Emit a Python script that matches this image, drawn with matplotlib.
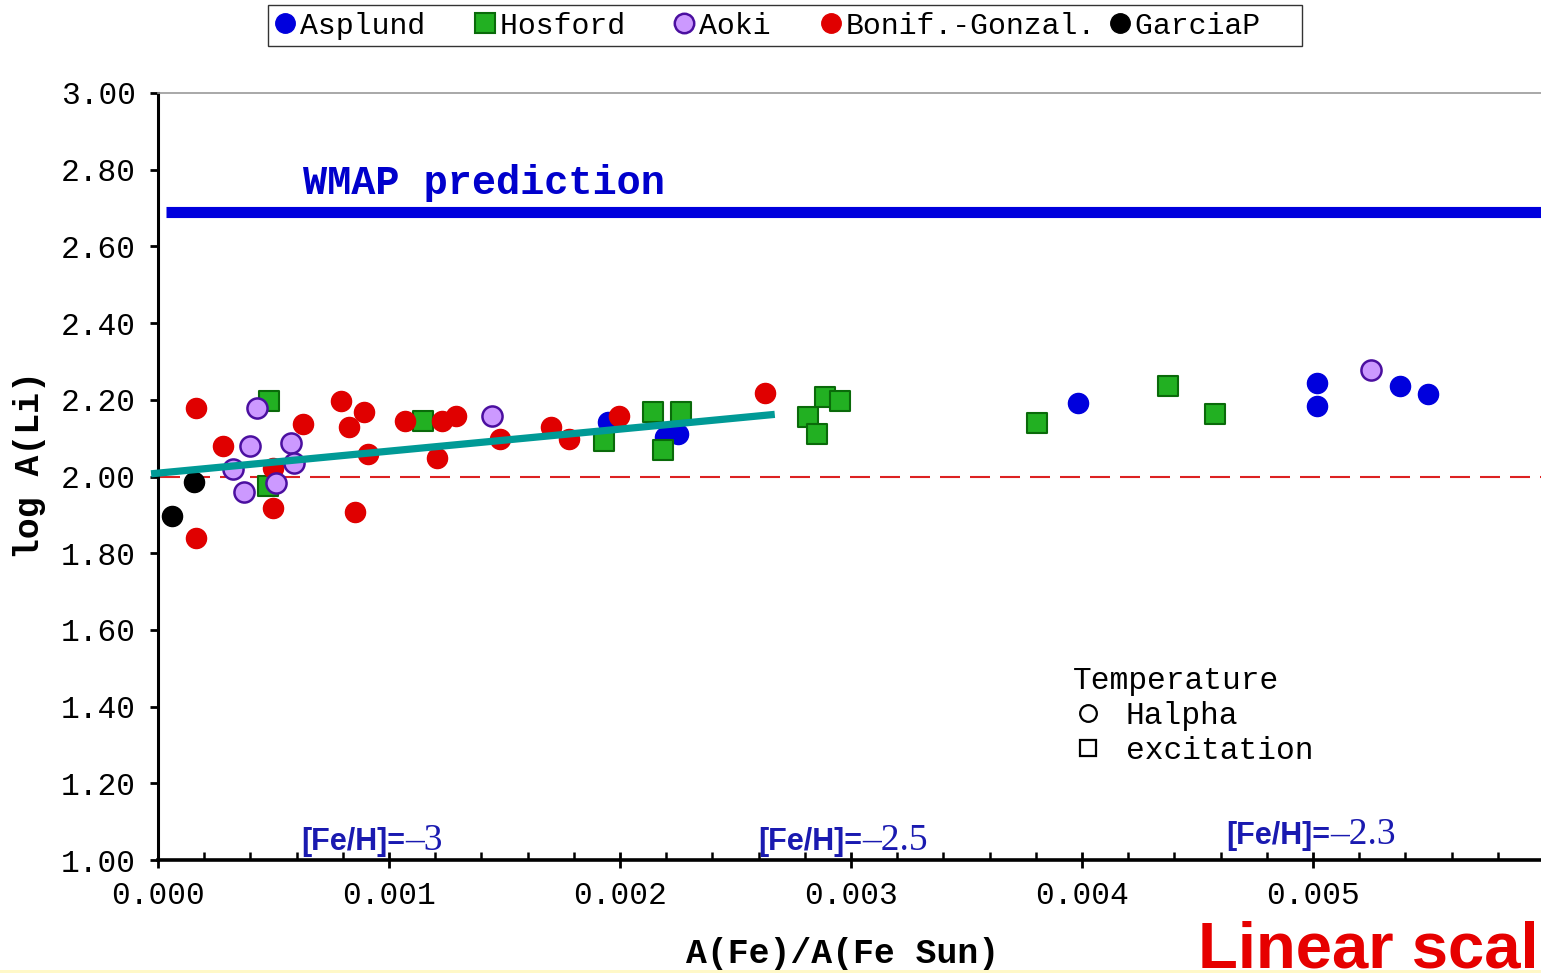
import matplotlib
matplotlib.use("Agg")
import matplotlib.pyplot as plt
from matplotlib.lines import Line2D
from matplotlib.patches import Rectangle

# lithium abundance vs iron abundance, per survey
asplund_x = [0.001948, 0.002195, 0.002251, 0.003983, 0.005017, 0.005017, 0.005377, 0.005498]
asplund_y = [2.142, 2.103, 2.111, 2.192, 2.244, 2.184, 2.236, 2.215]

hosford_x = [0.000480, 0.000476, 0.001147, 0.001931, 0.002143, 0.002264, 0.002186,
             0.002814, 0.002853, 0.002887, 0.002952, 0.003805, 0.004372, 0.004576]
hosford_y = [2.197, 1.975, 2.145, 2.093, 2.168, 2.168, 2.069,
             2.155, 2.111, 2.207, 2.197, 2.139, 2.236, 2.163]

aoki_x = [0.000429, 0.000398, 0.000325, 0.000372, 0.000511, 0.000576, 0.000589, 0.001446, 0.005251]
aoki_y = [2.179, 2.080, 2.020, 1.960, 1.983, 2.087, 2.035, 2.158, 2.278]

bonif_x = [0.000165, 0.000165, 0.000281, 0.000498, 0.000498, 0.000628, 0.000792, 0.000827,
           0.000892, 0.000853, 0.000909, 0.001069, 0.001208, 0.001229, 0.001290, 0.001480,
           0.001701, 0.001779, 0.001996, 0.002628]
bonif_y = [2.179, 1.840, 2.080, 2.022, 1.918, 2.137, 2.197, 2.129,
           2.168, 1.907, 2.059, 2.145, 2.048, 2.145, 2.158, 2.098,
           2.129, 2.098, 2.158, 2.218]

garcia_x = [0.0000606, 0.000156]
garcia_y = [1.897, 1.986]

fit_x = [-0.00003, 0.00267]
fit_y = [2.007, 2.162]

wmap_value = 2.69
plateau = 2.00

feh_labels = ["\u20133", "\u20132.5", "\u20132.3"]
feh_x = [0.001069, 0.003048, 0.005074]
feh_y = [1.027, 1.027, 1.042]

mono = ["Liberation Mono", "DejaVu Sans Mono"]
plt.rcParams["font.family"] = mono

fig = plt.figure(figsize=(15.41, 9.73), dpi=100)
ax = fig.add_axes([158 / 1541, 1 - 860 / 973, 1 - 158 / 1541, 767 / 973])

ax.set_xlim(0, 0.005987)
ax.set_ylim(1.0, 3.0)

ms = 210
ax.scatter(asplund_x, asplund_y, s=ms, marker="o", color="#0000dd", zorder=3)
ax.scatter(hosford_x, hosford_y, s=ms, marker="s", facecolor="#22b022",
           edgecolor="#0a6a0a", linewidth=1.5, zorder=4)
ax.scatter(bonif_x, bonif_y, s=ms, marker="o", color="#e00000", zorder=5)
ax.scatter(aoki_x, aoki_y, s=ms, marker="o", facecolor="#cc99ff",
           edgecolor="#4b0fa0", linewidth=1.8, zorder=6)
ax.scatter(garcia_x, garcia_y, s=ms, marker="o", color="black", zorder=6)

ax.plot(fit_x, fit_y, color="#009a96", linewidth=5.2, solid_capstyle="butt",
        clip_on=False, zorder=7)

ax.plot([0.0000346, 0.006], [wmap_value, wmap_value], color="#0000dd",
        linewidth=8, solid_capstyle="butt", zorder=2)
ax.text(0.000628, 2.765, "WMAP prediction", color="#0000cc", fontsize=29,
        fontweight="bold", va="center", ha="left")

ax.plot([0.00001, 0.006], [plateau, plateau], color="#dd2222", linewidth=1.5,
        linestyle=(0, (9.6, 4.8)), zorder=1)

for lx, ly, lab in zip(feh_x, feh_y, feh_labels):
    ax.text(lx, ly, "[Fe/H]=", color="#1a1ab0", fontsize=22, fontweight="bold",
            family=["Liberation Sans"], ha="right", va="baseline")
    ax.text(lx, ly, lab, color="#1a1ab0", fontsize=27, family=["Liberation Serif"],
            ha="left", va="baseline")

# axes styling
ax.spines["right"].set_visible(False)
ax.spines["top"].set_color("#999999")
ax.spines["top"].set_linewidth(1.2)
ax.spines["left"].set_linewidth(2.2)
ax.spines["bottom"].set_linewidth(2.6)

xmajor = [0.000, 0.001, 0.002, 0.003, 0.004, 0.005]
ax.set_xticks(xmajor)
ax.set_xticklabels(["%.3f" % v for v in xmajor])
ax.set_xticks([i * 0.0002 for i in range(30)], minor=True)
ymajor = [1.0 + 0.2 * i for i in range(11)]
ax.set_yticks(ymajor)
ax.set_yticklabels(["%.2f" % v for v in ymajor])
ax.tick_params(axis="x", which="major", direction="inout", length=12, width=2,
               pad=9, labelsize=22.5)
ax.tick_params(axis="x", which="minor", direction="in", length=6, width=1.8)
ax.tick_params(axis="y", which="major", direction="out", length=6, width=2,
               pad=10, labelsize=22.5)
ax.tick_params(top=False, right=False)

ax.set_xlabel("A(Fe)/A(Fe Sun)", fontsize=25, fontweight="bold")
ax.xaxis.set_label_coords(0.495, -0.1)
ax.set_ylabel("log A(Li)", fontsize=25, fontweight="bold")
ax.yaxis.set_label_coords(-0.081, 0.515)

# temperature method key
temp_handles = [
    Line2D([], [], marker="o", linestyle="none", markersize=12, markerfacecolor="white",
           markeredgecolor="black", markeredgewidth=1.6),
    Line2D([], [], marker="s", linestyle="none", markersize=12, markerfacecolor="white",
           markeredgecolor="black", markeredgewidth=1.6),
]
tleg = ax.legend(temp_handles, ["Halpha", "excitation"], title="Temperature",
                 loc="upper left", bbox_to_anchor=(0.65, 0.273), frameon=False,
                 fontsize=22.5, title_fontsize=22.5, handlelength=1.0, handletextpad=0.7,
                 labelspacing=0.15, borderpad=0.0)
tleg._legend_box.align = "left"

# survey legend across the top
survey_handles = [
    Line2D([], [], marker="o", linestyle="none", markersize=14, color="#0000dd"),
    Line2D([], [], marker="s", linestyle="none", markersize=14, markerfacecolor="#22b022",
           markeredgecolor="#0a6a0a", markeredgewidth=1.5),
    Line2D([], [], marker="o", linestyle="none", markersize=14, markerfacecolor="#cc99ff",
           markeredgecolor="#4b0fa0", markeredgewidth=1.8),
    Line2D([], [], marker="o", linestyle="none", markersize=14, color="#e00000"),
    Line2D([], [], marker="o", linestyle="none", markersize=14, color="black"),
]
survey_labels = ["Asplund  ", "Hosford  ", "Aoki  ", "Bonif.-Gonzal.", "GarciaP  "]
fig.legend(survey_handles, survey_labels, loc="upper center",
           bbox_to_anchor=(785 / 1541, 1 - 5 / 973), ncol=5, frameon=True,
           fancybox=False, edgecolor="black", fontsize=21.5, handlelength=0.7,
           handletextpad=0.15, columnspacing=0.45, borderpad=0.22, borderaxespad=0)

fig.text(1198 / 1541, 1 - 968 / 973, "Linear scale", color="#e60000", fontsize=47,
         fontweight="bold", family=["Liberation Sans"], ha="left", va="baseline")

fig.patches.append(Rectangle((0, 0), 1, 3 / 973, transform=fig.transFigure,
                             facecolor="#fff8c8", edgecolor="none"))

fig.savefig("out.png", dpi=100)
